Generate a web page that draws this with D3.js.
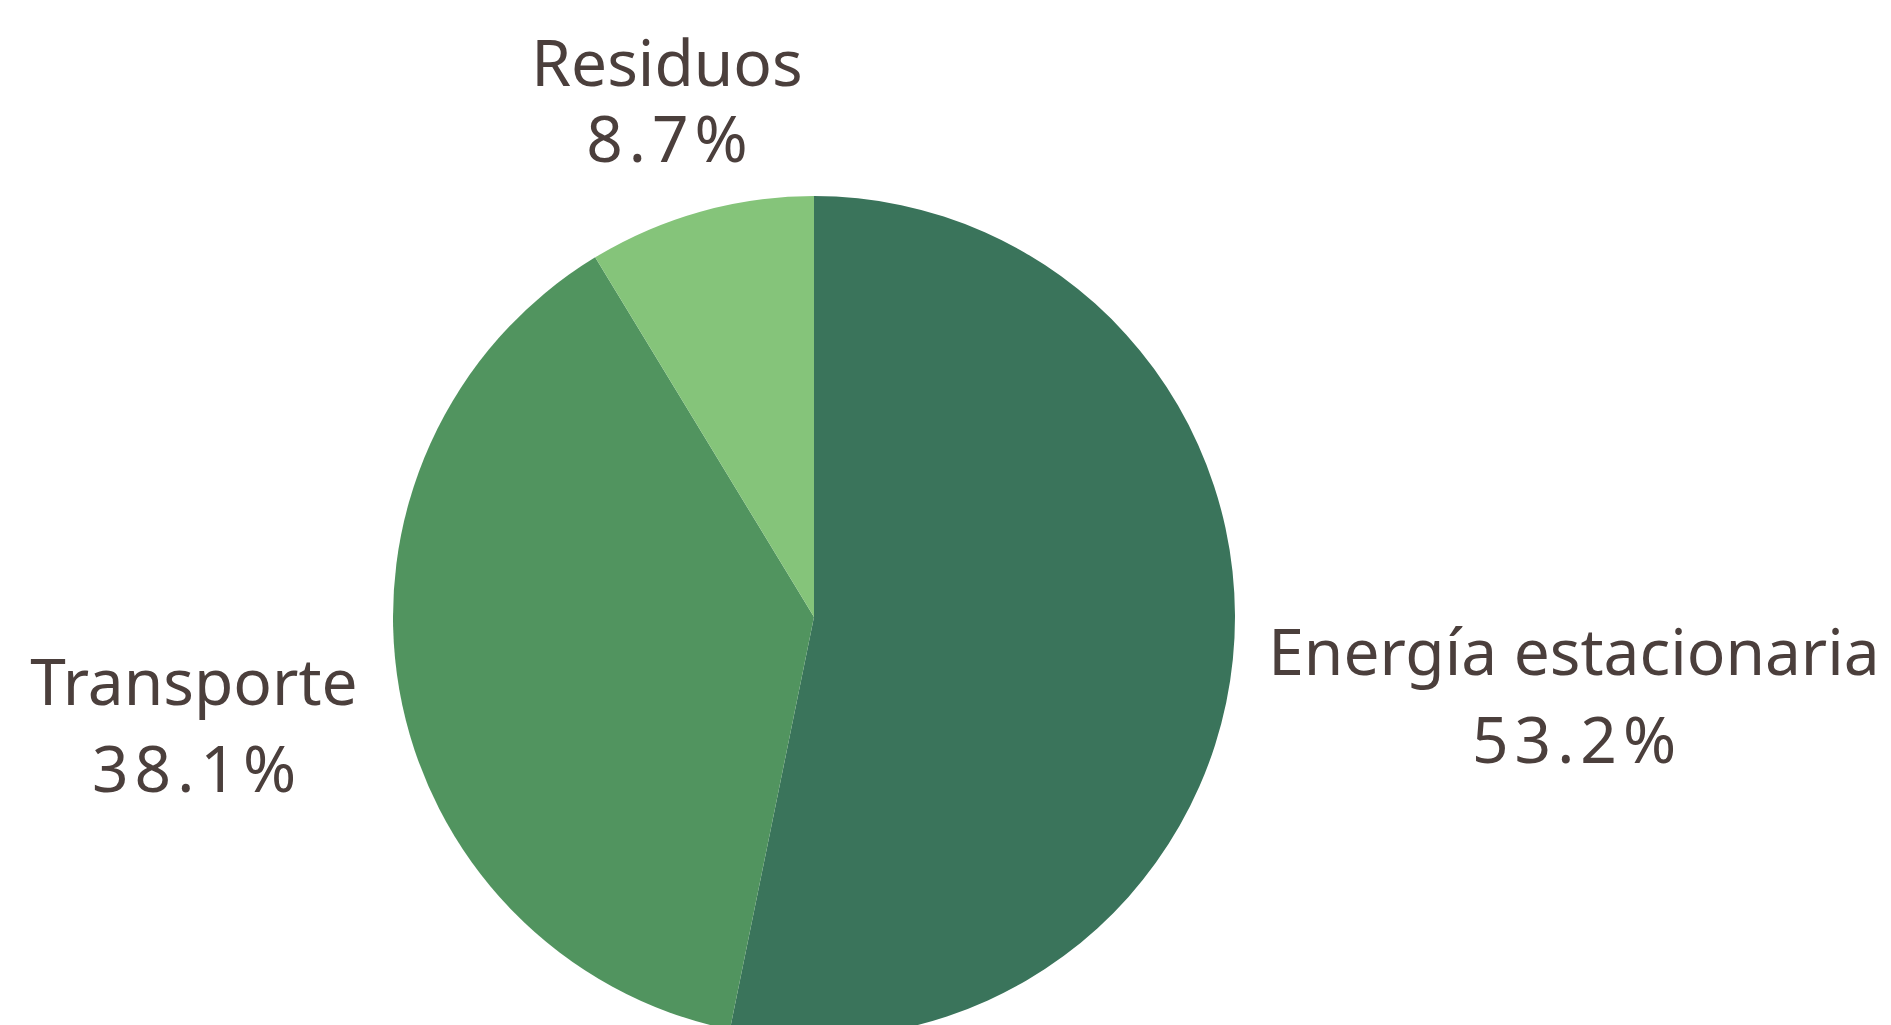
<!DOCTYPE html>
<html>
<head>
<meta charset="utf-8">
<script src="https://cdn.jsdelivr.net/npm/d3@7"></script>
<style>
  body { margin: 0; background: #fff; }
  text { font-family: "Noto Sans", sans-serif; fill: #4b3f3c; }
</style>
</head>
<body>
<svg id="chart" width="1891" height="1025"></svg>
<script>
const categories = ["Energía estacionaria", "Transporte", "Residuos"];
const shares = [53.2, 38.1, 8.7];
const sliceColors = ["#3a745b", "#51945f", "#85c47a"];

// label anchor points (center x, baseline of first line) and line gaps
const labelPos = [[1574, 675, 88], [194, 705, 87], [667, 86, 76]];

const WIDTH = 1891, HEIGHT = 1025;
const CX = 814, CY = 617, R = 421;
const PCT_SPACING = 6;

const svg = d3.select('#chart');

const pie = d3.pie().sort(null).value(d => d);
const arc = d3.arc().innerRadius(0).outerRadius(R);
const color = d3.scaleOrdinal().domain(categories).range(sliceColors);

const g = svg.append('g').attr('transform', `translate(${CX}, ${CY})`);

g.selectAll('path')
    .data(pie(shares))
    .join('path')
    .attr('d', arc)
    .attr('fill', (d, i) => color(categories[i]));

// labels
const labels = svg.selectAll('g.label')
    .data(categories)
    .join('g')
    .attr('class', 'label')
    .attr('transform', (d, i) => `translate(${labelPos[i][0]}, ${labelPos[i][1]})`);

labels.append('text')
    .attr('text-anchor', 'middle')
    .attr('font-size', 64)
    .text(d => d);

// percentages are a bit wider set in the reference
labels.append('text')
    .attr('text-anchor', 'middle')
    .attr('font-size', 64)
    .attr('letter-spacing', PCT_SPACING)
    .attr('x', PCT_SPACING / 2)
    .attr('y', (d, i) => labelPos[i][2])
    .text((d, i) => d3.format('.1f')(shares[i]) + '%');
</script>
</body>
</html>
